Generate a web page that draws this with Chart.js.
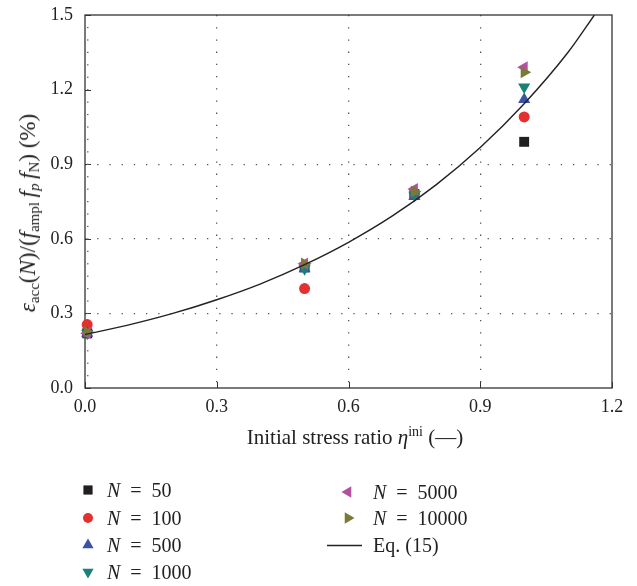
<!DOCTYPE html>
<html>
<head>
<meta charset="utf-8">
<script src="https://cdn.jsdelivr.net/npm/chart.js@4.4.0/dist/chart.umd.min.js"></script>
<style>
  body { margin: 0; background: #fff; }
  #wrap { position: relative; width: 637px; height: 586px; font-family: "Liberation Serif", "DejaVu Serif", serif; color: #222; }
  #chart { position: absolute; left: 0; top: 0; }
  .ytitle { position: absolute; left: 29px; top: 213px; transform: translate(-50%, -50%) rotate(-90deg); white-space: nowrap; font-size: 23px; }
  .ytitle sub { font-size: 15px; vertical-align: -4px; }
  .xtitle { position: absolute; left: 355px; top: 437px; transform: translate(-50%, -50%); white-space: nowrap; font-size: 21px; }
  sup { font-size: 14px; vertical-align: 8px; }
  .leg { position: absolute; font-size: 20px; white-space: nowrap; height: 22px; line-height: 22px; }
  .leg canvas { position: absolute; top: 2px; }
</style>
</head>
<body>
<div id="wrap">
  <canvas id="chart" width="637" height="586"></canvas>
  <div class="ytitle"><i>ε</i><sub>acc</sub>(<i>N</i>)/(<i>f</i><sub>ampl</sub>&thinsp;<i>f</i><sub><i>p</i></sub>&thinsp;<i>f</i><sub>N</sub>) (%)</div>
  <div class="xtitle">Initial stress ratio <i>η</i><sup>ini</sup> (—)</div>
</div>
<script>
// stress ratios where the tests were run
const stressRatios = [0.005, 0.5, 0.75, 1.0];

// normalised accumulated strain (%) per number of cycles
const n50 = [0.22, 0.485, 0.78, 0.99];
const n100 = [0.255, 0.40, 0.78, 1.09];
const n500 = [0.22, 0.48, 0.77, 1.16];
const n1000 = [0.22, 0.48, 0.775, 1.21];
const n5000 = [0.22, 0.50, 0.80, 1.29];
const n10000 = [0.225, 0.50, 0.79, 1.27];

// Eq. (15)
const eqX = [0, 0.1, 0.2, 0.3, 0.4, 0.5, 0.6, 0.7, 0.8, 0.9, 1.0, 1.1, 1.16];
const eqY = [0.215, 0.254, 0.30, 0.355, 0.419, 0.496, 0.586, 0.692, 0.818, 0.967, 1.143, 1.35, 1.50];

const xTicks = [0, 0.3, 0.6, 0.9, 1.2];
const yTicks = [0, 0.3, 0.6, 0.9, 1.2, 1.5];

const serif = '"Liberation Serif", "DejaVu Serif", serif';

const series = [
  { label: '50', data: n50, color: '#231f20', style: 'rect', rot: 0, r: 7 },
  { label: '100', data: n100, color: '#e4312f', style: 'circle', rot: 0, r: 5.5 },
  { label: '500', data: n500, color: '#3a53a4', style: 'triangle', rot: 0, r: 7 },
  { label: '1000', data: n1000, color: '#1b7f7a', style: 'triangle', rot: 180, r: 7 },
  { label: '5000', data: n5000, color: '#b4509f', style: 'triangle', rot: -90, r: 7 },
  { label: '10000', data: n10000, color: '#7a7a36', style: 'triangle', rot: 90, r: 7 }
];

const datasets = series.map((s, i) => ({
  label: 'N = ' + s.label,
  data: stressRatios.map((x, j) => ({ x: x, y: s.data[j] })),
  backgroundColor: s.color,
  borderColor: s.color,
  borderWidth: 0,
  pointStyle: s.style,
  pointRotation: s.rot,
  pointRadius: s.r,
  pointHoverRadius: s.r,
  showLine: false,
  clip: false,
  order: series.length - i
}));

datasets.push({
  label: 'Eq. (15)',
  data: eqX.map((x, j) => ({ x: x, y: eqY[j] })),
  showLine: true,
  borderColor: '#222',
  borderWidth: 1.4,
  pointRadius: 0,
  cubicInterpolationMode: 'monotone',
  fill: false,
  order: 0
});

// box around the plot, inward ticks
const frame = {
  id: 'frame',
  beforeDatasetsDraw(chart) {
    const { ctx, chartArea: a, scales } = chart;
    ctx.save();
    ctx.strokeStyle = '#333';
    ctx.lineWidth = 1.3;
    ctx.strokeRect(a.left, a.top, a.right - a.left, a.bottom - a.top);
    ctx.lineWidth = 1;
    ctx.beginPath();
    xTicks.forEach(v => {
      const px = Math.round(scales.x.getPixelForValue(v)) + 0.5;
      ctx.moveTo(px, a.bottom);
      ctx.lineTo(px, a.bottom - 6);
    });
    yTicks.forEach(v => {
      const py = Math.round(scales.y.getPixelForValue(v)) + 0.5;
      ctx.moveTo(a.left, py);
      ctx.lineTo(a.left + 6, py);
    });
    ctx.stroke();
    ctx.fillStyle = '#666';
    for (let k = 1; k < 30; k++) {
      const py = scales.y.getPixelForValue(k * 0.05);
      ctx.fillRect(a.left + 2, py - 0.5, 1.5, 1.2);
    }
    ctx.restore();
  }
};

const dotted = (ctx) => {
  const v = ctx.tick && ctx.tick.value;
  return (v > 0.01 && v < 1.19) ? '#555' : 'rgba(0,0,0,0)';
};

const chart = new Chart(document.getElementById('chart'), {
  type: 'scatter',
  data: { datasets },
  options: {
    responsive: false,
    animation: false,
    layout: { padding: { top: 15, right: 25, left: 0, bottom: 0 } },
    plugins: { legend: { display: false }, tooltip: { enabled: false } },
    scales: {
      x: {
        type: 'linear',
        min: 0,
        max: 1.2,
        afterBuildTicks: (s) => { s.ticks = xTicks.map(v => ({ value: v })); },
        afterFit: (s) => { s.height = 198; s.paddingLeft = 0; s.paddingRight = 0; },
        ticks: {
          callback: (v) => v.toFixed(1),
          color: '#222',
          padding: 8,
          font: { family: serif, size: 18 }
        },
        grid: { color: dotted, lineWidth: 1.3, drawTicks: false },
        border: { display: false, dash: [1.3, 10.9] }
      },
      y: {
        type: 'linear',
        min: 0,
        max: 1.5,
        afterBuildTicks: (s) => { s.ticks = yTicks.map(v => ({ value: v })); },
        afterFit: (s) => { s.width = 85; s.paddingTop = 0; s.paddingBottom = 0; },
        ticks: {
          callback: (v) => v.toFixed(1),
          color: '#222',
          padding: 12,
          font: { family: serif, size: 18 }
        },
        grid: { color: dotted, lineWidth: 1.3, drawTicks: false },
        border: { display: false, dash: [1.3, 10.9] }
      }
    }
  },
  plugins: [frame]
});

// legend in two columns under the plot: [text left, row centre, marker offset]
const wrap = document.getElementById('wrap');
const legendPos = [
  [107, 490, 19], [107, 518, 19], [107, 545, 19], [107, 572, 19],
  [373, 492, 25], [373, 518, 25], [373, 545, 46]
];
chart.data.datasets.forEach((ds, i) => {
  const [lx, ly, off] = legendPos[i];
  const div = document.createElement('div');
  div.className = 'leg';
  div.style.left = lx + 'px';
  div.style.top = (ly - 11) + 'px';
  const c = document.createElement('canvas');
  const isLine = ds.showLine;
  c.width = isLine ? 40 : 18;
  c.height = 18;
  c.style.left = isLine ? (-off) + 'px' : (-off - 9) + 'px';
  const cx = c.getContext('2d');
  if (isLine) {
    cx.strokeStyle = '#222';
    cx.lineWidth = 1.3;
    cx.beginPath();
    cx.moveTo(0, 9.5);
    cx.lineTo(35, 9.5);
    cx.stroke();
    div.textContent = ds.label;
  } else {
    cx.fillStyle = ds.backgroundColor;
    cx.strokeStyle = ds.backgroundColor;
    Chart.helpers.drawPoint(cx, {
      pointStyle: ds.pointStyle,
      rotation: ds.pointRotation,
      radius: ds.pointRadius - 0.5,
      borderWidth: 0
    }, 9, 9);
    div.innerHTML = '<i>N</i>&nbsp;&nbsp;=&nbsp;&nbsp;' + ds.label.replace('N = ', '');
  }
  div.appendChild(c);
  wrap.appendChild(div);
});
</script>
</body>
</html>
